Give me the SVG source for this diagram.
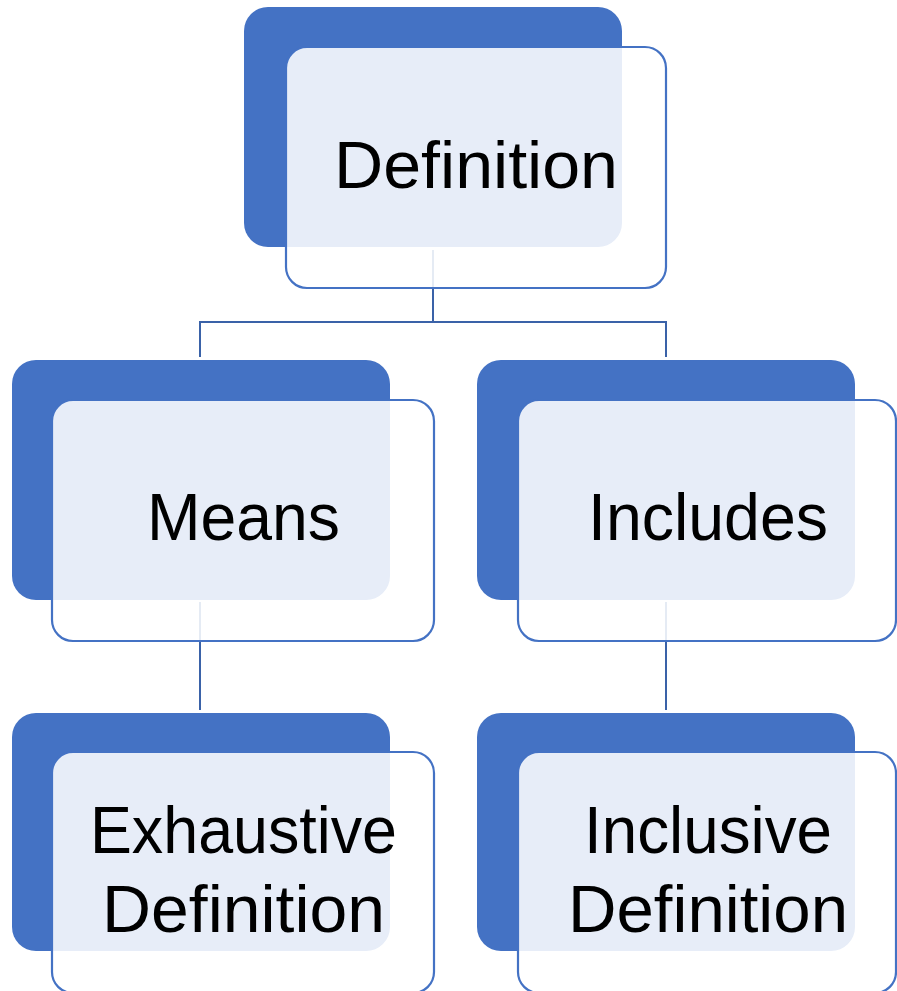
<svg xmlns="http://www.w3.org/2000/svg" width="897" height="991" viewBox="0 0 897 991">
  <style>
    .back { fill: #4472C4; }
    .front { fill: #FFFFFF; fill-opacity: 0.87; stroke: #4472C4; stroke-width: 2.2; }
    .label { font-family: "Liberation Sans", Arial, sans-serif; font-size: 66px; fill: #000000; text-anchor: middle; }
    .link { fill: none; stroke: #3A62A8; stroke-width: 2; }
  </style>
  <rect width="897" height="991" fill="#FFFFFF"/>

  <!-- tree connectors, drawn beneath the nodes -->
  <g id="connectors">
    <path class="link" d="M433,250 V322 M200,357 V322 H666 V357"/>
    <path class="link" d="M200,602 V710"/>
    <path class="link" d="M666,602 V710"/>
  </g>

  <g id="node-definition">
    <rect class="back" x="244" y="7" width="378" height="240" rx="24"/>
    <rect class="front" x="286" y="47" width="380" height="241" rx="21"/>
    <text class="label" x="476" y="188" textLength="284" lengthAdjust="spacingAndGlyphs">Definition</text>
  </g>

  <g id="node-means">
    <rect class="back" x="12" y="360" width="378" height="240" rx="24"/>
    <rect class="front" x="52" y="400" width="382" height="241" rx="21"/>
    <text class="label" x="243.5" y="540" textLength="193" lengthAdjust="spacingAndGlyphs">Means</text>
  </g>

  <g id="node-includes">
    <rect class="back" x="477" y="360" width="378" height="240" rx="24"/>
    <rect class="front" x="518" y="400" width="378" height="241" rx="21"/>
    <text class="label" x="708" y="540" textLength="240" lengthAdjust="spacingAndGlyphs">Includes</text>
  </g>

  <g id="node-exhaustive">
    <rect class="back" x="12" y="713" width="378" height="238" rx="24"/>
    <rect class="front" x="52" y="752" width="382" height="241" rx="21"/>
    <text class="label" x="243.5" y="853" textLength="307" lengthAdjust="spacingAndGlyphs">Exhaustive</text>
    <text class="label" x="243.5" y="932" textLength="283" lengthAdjust="spacingAndGlyphs">Definition</text>
  </g>

  <g id="node-inclusive">
    <rect class="back" x="477" y="713" width="378" height="238" rx="24"/>
    <rect class="front" x="518" y="752" width="378" height="241" rx="21"/>
    <text class="label" x="708" y="853" textLength="248" lengthAdjust="spacingAndGlyphs">Inclusive</text>
    <text class="label" x="708" y="932" textLength="280" lengthAdjust="spacingAndGlyphs">Definition</text>
  </g>
</svg>
